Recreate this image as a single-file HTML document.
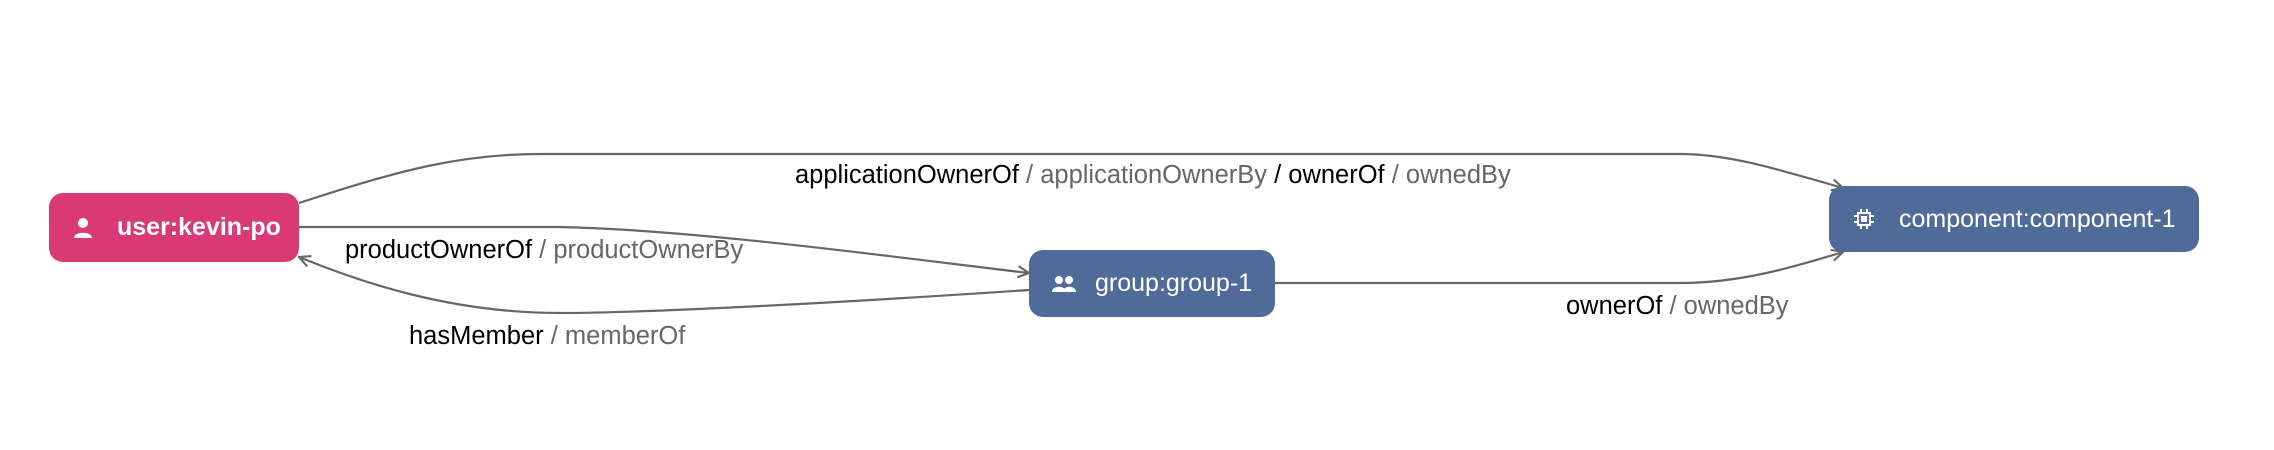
<!DOCTYPE html>
<html><head><style>
body{margin:0;background:#fff;width:2274px;height:450px;overflow:hidden;font-family:"Liberation Sans",sans-serif}
.n{position:absolute;border-radius:14px;color:#fff;font-size:25px;display:flex;align-items:center}
.l{position:absolute;font-size:25.5px;color:#000;white-space:nowrap}
.l span{color:#666}
</style></head><body>
<svg width="2274" height="450" style="position:absolute;left:0;top:0" fill="none" stroke="#666" stroke-width="2.2">
<defs><marker id="a" viewBox="0 0 10 10" refX="9" refY="5" markerWidth="14" markerHeight="14" orient="auto" markerUnits="userSpaceOnUse"><path d="M1 1L9 5L1 9" stroke="#666" stroke-width="1.5" fill="none"/></marker></defs>
<path d="M299 203 C400 170 460 154 540 154 L1680 154 C1730 154 1780 170 1843 188" marker-end="url(#a)"/>
<path d="M299 227 L560 227 C700 230 900 258 1029 273" marker-end="url(#a)"/>
<path d="M1029 290 C850 302 650 313 560 313 C450 313 360 282 299 257" marker-end="url(#a)"/>
<path d="M1275 283 L1680 283 C1740 283 1790 268 1843 252" marker-end="url(#a)"/>
</svg>
<div class="n" style="left:49px;top:193px;width:250px;height:69px;background:#d93a73;font-weight:bold">
<svg width="20" height="22" style="margin-left:24px;margin-right:24px" viewBox="0 0 20 22"><circle cx="10" cy="6" r="5" fill="#fff"/><path d="M1 21 C1 14 19 14 19 21Z" fill="#fff"/></svg>user:kevin-po</div>
<div class="n" style="left:1029px;top:250px;width:246px;height:67px;background:#506b9a">
<svg width="26" height="18" style="margin-left:22px;margin-right:18px" viewBox="0 0 26 18"><circle cx="8" cy="5" r="4" fill="#fff"/><circle cx="18" cy="5" r="4" fill="#fff"/><path d="M1 17C1 10 15 10 15 17Z M12 17C12 10 25 10 25 17Z" fill="#fff"/></svg>group:group-1</div>
<div class="n" style="left:1829px;top:186px;width:370px;height:66px;background:#506b9a">
<svg width="22" height="22" style="margin-left:24px;margin-right:24px" viewBox="0 0 22 22" stroke="#fff" stroke-width="2" fill="none"><rect x="5" y="5" width="12" height="12"/><rect x="9" y="9" width="4" height="4" fill="#fff"/><path d="M8 1v4M14 1v4M8 17v4M14 17v4M1 8h4M1 14h4M17 8h4M17 14h4"/></svg>component:component-1</div>
<div class="l" style="left:795px;top:161px">applicationOwnerOf <span>/ applicationOwnerBy</span> / ownerOf <span>/ ownedBy</span></div>
<div class="l" style="left:345px;top:236px">productOwnerOf <span>/ productOwnerBy</span></div>
<div class="l" style="left:409px;top:322px">hasMember <span>/ memberOf</span></div>
<div class="l" style="left:1566px;top:292px">ownerOf <span>/ ownedBy</span></div>
</body></html>
